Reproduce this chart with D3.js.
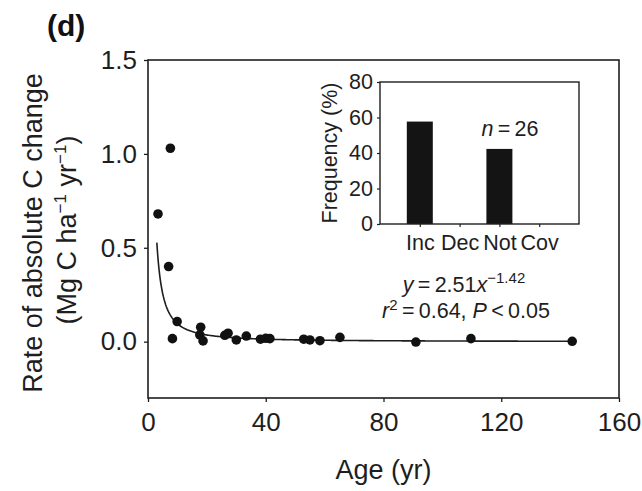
<!DOCTYPE html>
<html>
<head>
<meta charset="utf-8">
<script src="https://cdn.jsdelivr.net/npm/d3@7/dist/d3.min.js"></script>
<style>
  html, body { margin: 0; padding: 0; background: #fff; }
  svg { display: block; font-family: "Liberation Sans", Arial, Helvetica, sans-serif; }
</style>
</head>
<body>
<svg id="chart" width="642" height="491"></svg>
<script>
// Stand age (yr) and rate of absolute C change (Mg C ha-1 yr-1)
const ages  = [3.4, 7.6, 7.0, 9.9, 8.3, 17.9, 17.6, 18.7, 26.1, 27.2, 30.0, 33.4, 38.2, 40.0, 41.4, 52.9, 55.0, 58.4, 65.2, 91.0, 109.7, 144.1];
const rates = [0.68, 1.03, 0.40, 0.107, 0.016, 0.077, 0.036, 0.004, 0.034, 0.045, 0.009, 0.03, 0.013, 0.018, 0.016, 0.013, 0.009, 0.005, 0.023, -0.002, 0.016, 0.002];

// Power-law fit y = a * x^b
const fitA = 2.51;
const fitB = -1.42;
const fitRange = [3, 145];

const xTicks = [0, 40, 80, 120, 160];
const yTicks = [0.0, 0.5, 1.0, 1.5];

// Inset: frequency of response categories
const categories = ["Inc", "Dec", "Not", "Cov"];
const frequencies = [57.7, 0, 42.3, 0];
const insetTicks = [0, 20, 40, 60, 80];

const svg = d3.select("#chart");
const ink = "#1e1e1e";

// ---------- main panel ----------
const m = { left: 148, top: 60, right: 619, bottom: 398 };
const x = d3.scaleLinear().domain([0, 160]).range([m.left, m.right]);
const y = d3.scaleLinear().domain([-0.3, 1.5]).range([m.bottom, m.top]);

const xAxis = svg.append("g")
  .attr("transform", `translate(0,${m.bottom})`)
  .call(d3.axisBottom(x).tickValues(xTicks).tickSize(4).tickPadding(11).tickFormat(d3.format("d")));
const yAxis = svg.append("g")
  .attr("transform", `translate(${m.left},0)`)
  .call(d3.axisLeft(y).tickValues(yTicks).tickSize(4).tickPadding(7).tickFormat(d3.format(".1f")));

[xAxis, yAxis].forEach(g => {
  g.select(".domain").remove();
  g.selectAll("line").attr("stroke", ink).attr("stroke-width", 1.3);
  g.selectAll("text").attr("fill", ink).style("font-size", "26px")
    .style("font-family", "'Liberation Sans', Arial, sans-serif");
});

svg.append("rect")
  .attr("x", m.left).attr("y", m.top)
  .attr("width", m.right - m.left).attr("height", m.bottom - m.top)
  .attr("fill", "none").attr("stroke", ink).attr("stroke-width", 1.6);

// fitted curve
const curvePts = d3.range(fitRange[0], fitRange[1] + 0.01, 0.25).map(a => [a, fitA * Math.pow(a, fitB)]);
svg.append("path")
  .datum(curvePts)
  .attr("fill", "none").attr("stroke", ink).attr("stroke-width", 1.6)
  .attr("d", d3.line().x(d => x(d[0])).y(d => y(d[1])));

// observations
svg.append("g").selectAll("circle")
  .data(ages.map((a, i) => [a, rates[i]]))
  .join("circle")
  .attr("cx", d => x(d[0])).attr("cy", d => y(d[1]))
  .attr("r", 4.8).attr("fill", "#111");

// axis titles
svg.append("text")
  .attr("x", x(80)).attr("y", 479)
  .attr("text-anchor", "middle").attr("fill", ink)
  .style("font-size", "27px").text("Age (yr)");

const yTitle = svg.append("g").attr("fill", ink).style("font-size", "27px");
yTitle.append("text")
  .attr("transform", "translate(42,233) rotate(-90)")
  .attr("text-anchor", "middle")
  .text("Rate of absolute C change");
const unit = yTitle.append("text")
  .attr("transform", "translate(76,230) rotate(-90)")
  .attr("text-anchor", "middle");
unit.append("tspan").text("(Mg C ha");
unit.append("tspan").attr("dy", -10).style("font-size", "17px").text("\u22121");
unit.append("tspan").attr("dy", 10).text(" yr");
unit.append("tspan").attr("dy", -10).style("font-size", "17px").text("\u22121");
unit.append("tspan").attr("dy", 10).text(")");

// panel letter
svg.append("text")
  .attr("x", 47).attr("y", 36)
  .attr("fill", "#111").style("font-size", "30px").style("font-weight", "bold")
  .text("(d)");

// ---------- inset bar chart ----------
const im = { left: 380, top: 82, right: 579, bottom: 224 };
const ix = d3.scalePoint().domain(categories).range([im.left, im.right]).padding(1);
const iy = d3.scaleLinear().domain([0, 80]).range([im.bottom, im.top]);
const barW = 26;

svg.append("g").selectAll("rect")
  .data(categories.map((c, i) => [c, frequencies[i]]))
  .join("rect")
  .attr("x", d => ix(d[0]) - barW / 2)
  .attr("y", d => iy(d[1]))
  .attr("width", barW)
  .attr("height", d => iy(0) - iy(d[1]))
  .attr("fill", "#141414");

const ixAxis = svg.append("g")
  .attr("transform", `translate(0,${im.bottom})`)
  .call(d3.axisBottom(ix).tickSize(3).tickPadding(8));
const iyAxis = svg.append("g")
  .attr("transform", `translate(${im.left},0)`)
  .call(d3.axisLeft(iy).tickValues(insetTicks).tickSize(3).tickPadding(4));
[ixAxis, iyAxis].forEach(g => {
  g.select(".domain").remove();
  g.selectAll("line").attr("stroke", ink).attr("stroke-width", 1.2);
  g.selectAll("text").attr("fill", ink).style("font-size", "21.5px")
    .style("font-family", "'Liberation Sans', Arial, sans-serif");
});

svg.append("rect")
  .attr("x", im.left).attr("y", im.top)
  .attr("width", im.right - im.left).attr("height", im.bottom - im.top)
  .attr("fill", "none").attr("stroke", ink).attr("stroke-width", 1.4);

svg.append("text")
  .attr("transform", `translate(337,${(im.top + im.bottom) / 2}) rotate(-90)`)
  .attr("text-anchor", "middle").attr("fill", ink)
  .style("font-size", "21.5px").text("Frequency (%)");

const nLabel = svg.append("text")
  .attr("x", 510).attr("y", 136).attr("text-anchor", "middle")
  .attr("fill", ink).style("font-size", "21.5px");
nLabel.append("tspan").style("font-style", "italic").text("n");
nLabel.append("tspan").text("\u2009=\u200926");

// ---------- fit statistics ----------
const eq = svg.append("text")
  .attr("x", 464).attr("y", 292).attr("text-anchor", "middle")
  .attr("fill", ink).style("font-size", "21.5px");
eq.append("tspan").style("font-style", "italic").text("y");
eq.append("tspan").text("\u2009=\u20092.51");
eq.append("tspan").style("font-style", "italic").text("x");
eq.append("tspan").attr("dy", -9).style("font-size", "15px").text("\u22121.42");

const stat = svg.append("text")
  .attr("x", 466).attr("y", 318).attr("text-anchor", "middle")
  .attr("fill", ink).style("font-size", "21.5px");
stat.append("tspan").style("font-style", "italic").text("r");
stat.append("tspan").attr("dy", -8).style("font-size", "15px").text("2");
stat.append("tspan").attr("dy", 8).text("\u2009=\u20090.64, ");
stat.append("tspan").style("font-style", "italic").text("P");
stat.append("tspan").text("\u2009<\u20090.05");
</script>
</body>
</html>
